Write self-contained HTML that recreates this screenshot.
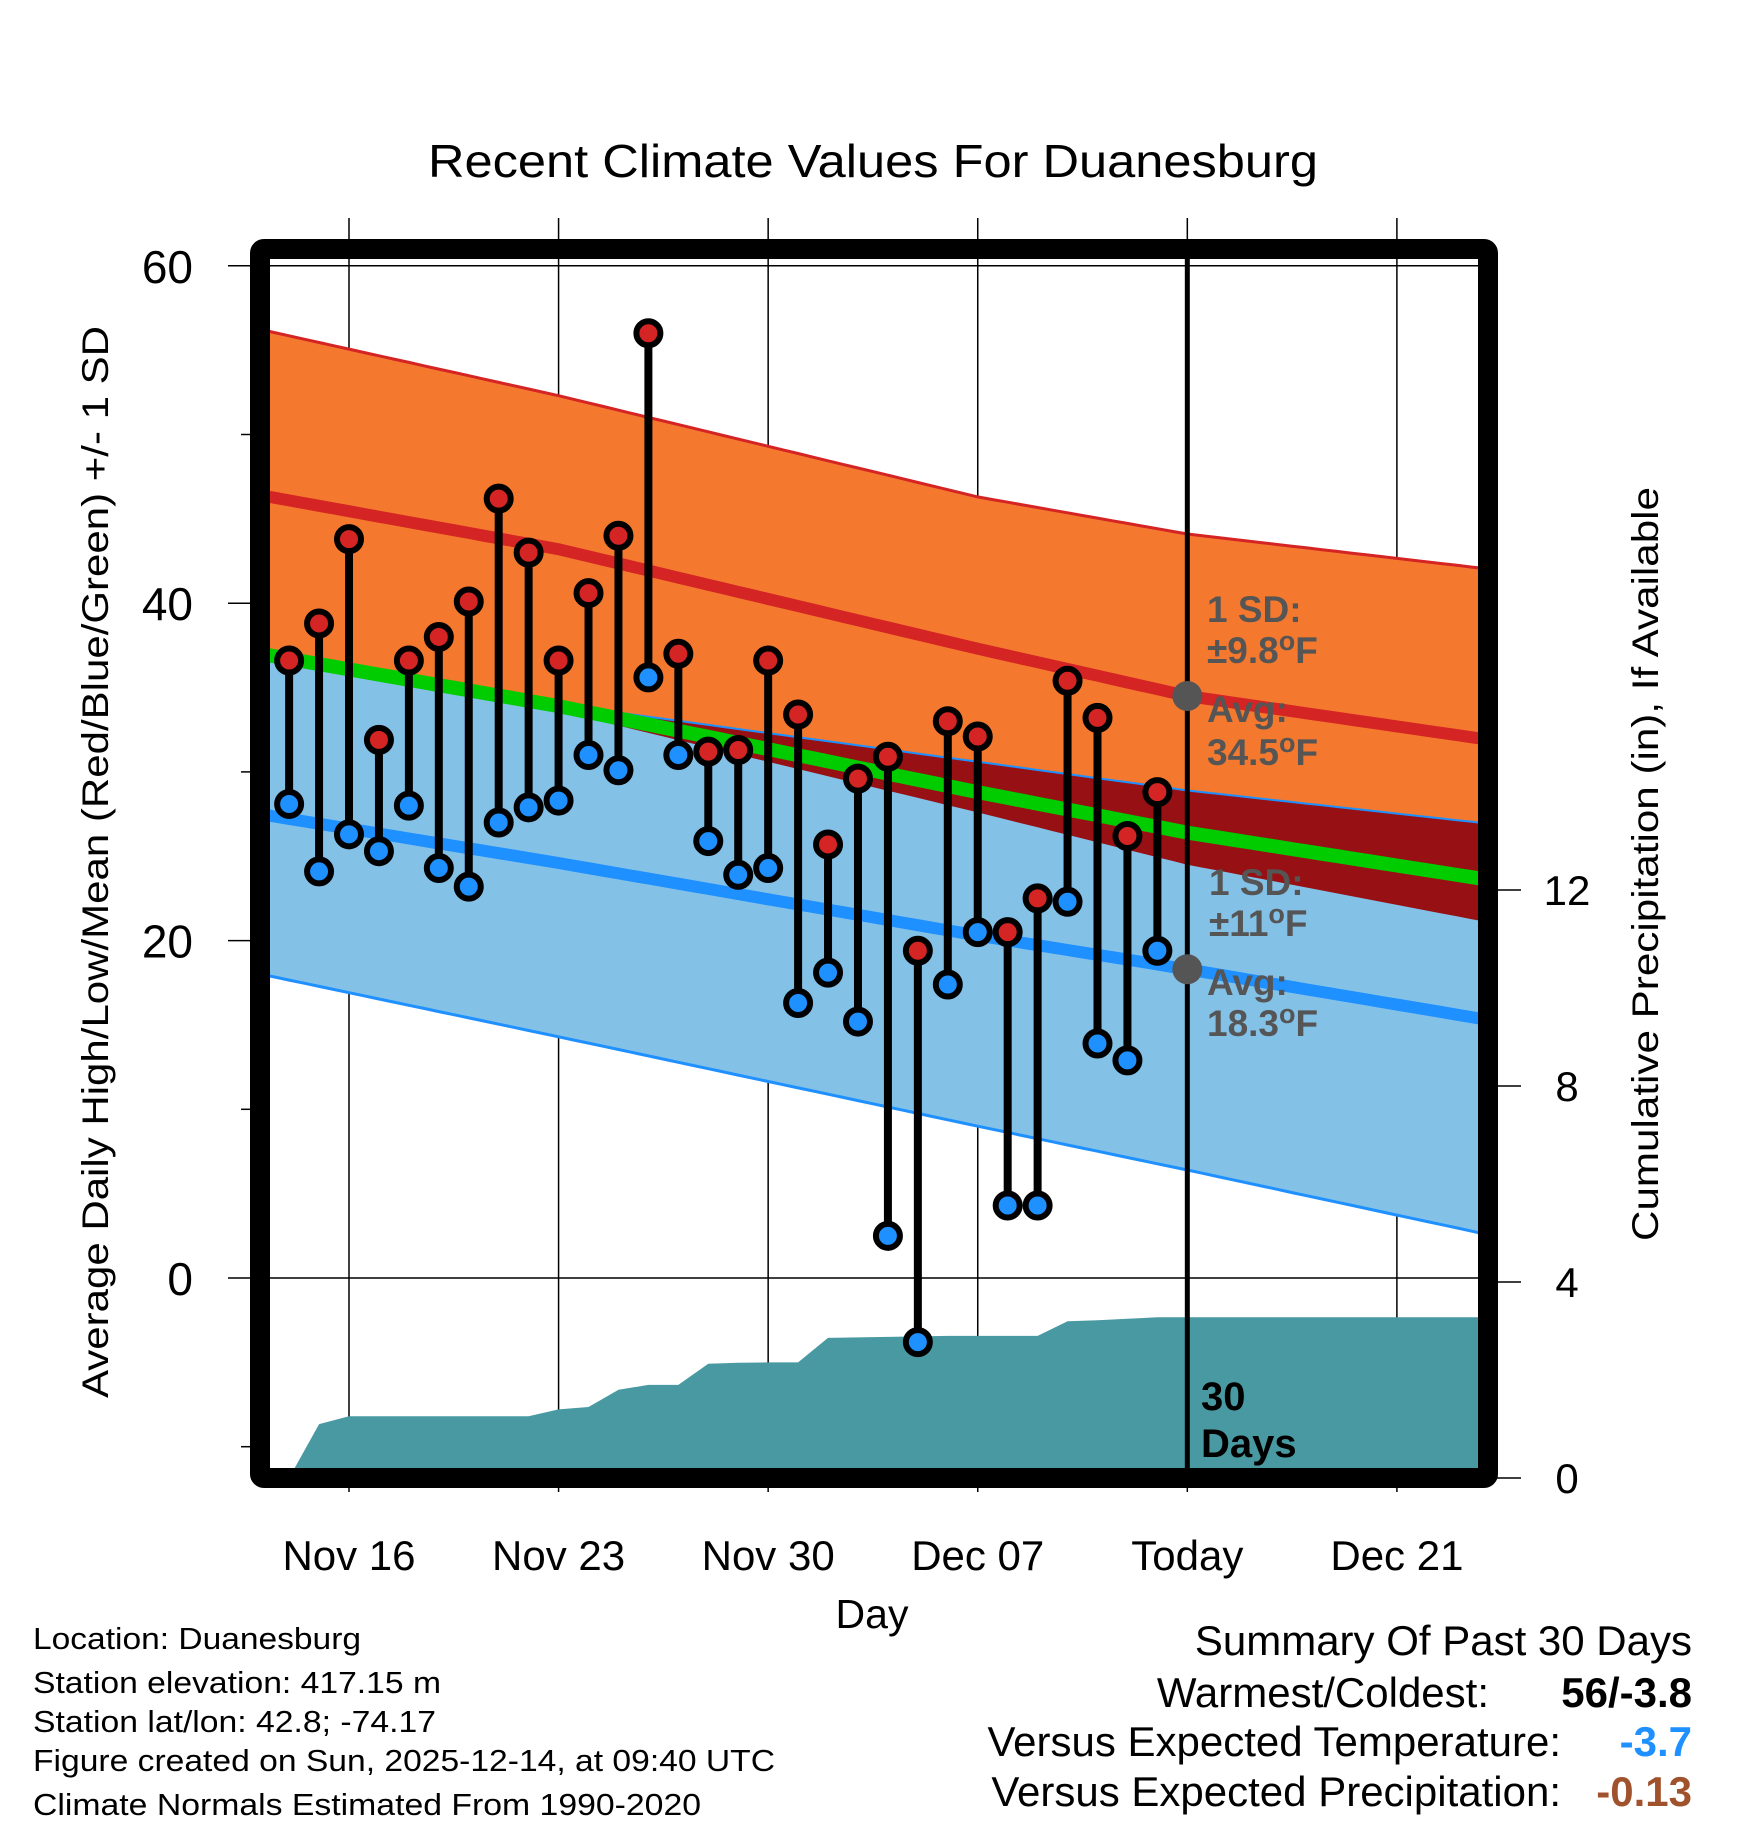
<!DOCTYPE html>
<html><head><meta charset="utf-8"><style>
html,body{margin:0;padding:0;background:#fff;}
svg{display:block;font-family:"Liberation Sans",Arial,sans-serif;}
</style></head><body>
<svg id="chart" width="1748" height="1828" viewBox="0 0 1748 1828" xmlns="http://www.w3.org/2000/svg">
<defs><clipPath id="plotclip"><rect x="270" y="259" width="1208" height="1209"/></clipPath></defs>
<rect width="1748" height="1828" fill="#fff"/>
<text x="873" y="177" font-size="46" text-anchor="middle" textLength="890" lengthAdjust="spacingAndGlyphs">Recent Climate Values For Duanesburg</text>
<g id="grid"></g>
<g id="plot" clip-path="url(#plotclip)"></g>
<g id="over"></g>
<g id="axes"></g>
<text transform="translate(108,862) rotate(-90)" font-size="37" text-anchor="middle" textLength="1072" lengthAdjust="spacingAndGlyphs">Average Daily High/Low/Mean (Red/Blue/Green) +/- 1 SD</text>
<text transform="translate(1658,864) rotate(-90)" font-size="37" text-anchor="middle" textLength="754" lengthAdjust="spacingAndGlyphs">Cumulative Precipitation (in), If Available</text>
<text x="872" y="1628" font-size="41" text-anchor="middle">Day</text>
<g font-size="31">
<text x="33" y="1649" textLength="328" lengthAdjust="spacingAndGlyphs">Location: Duanesburg</text>
<text x="33" y="1693" textLength="408" lengthAdjust="spacingAndGlyphs">Station elevation: 417.15 m</text>
<text x="33" y="1732" textLength="403" lengthAdjust="spacingAndGlyphs">Station lat/lon: 42.8; -74.17</text>
<text x="33" y="1771" textLength="742" lengthAdjust="spacingAndGlyphs">Figure created on Sun, 2025-12-14, at 09:40 UTC</text>
<text x="33" y="1815" textLength="668" lengthAdjust="spacingAndGlyphs">Climate Normals Estimated From 1990-2020</text>
</g>
<g font-size="42" text-anchor="end">
<text x="1692" y="1655">Summary Of Past 30 Days</text>
<text x="1489" y="1707">Warmest/Coldest:</text>
<text x="1692" y="1707" font-weight="bold">56/-3.8</text>
<text x="1561" y="1756">Versus Expected Temperature:</text>
<text x="1692" y="1756" font-weight="bold" fill="#1e90ff">-3.7</text>
<text x="1561" y="1806">Versus Expected Precipitation:</text>
<text x="1692" y="1806" font-weight="bold" fill="#a0522d">-0.13</text>
</g>
<g id="annot" font-size="37" font-weight="bold" fill="#555">
<text x="1207" y="622">1 SD:</text>
<text x="1207" y="663">±9.8<tspan font-size="27" dy="-13">o</tspan><tspan dy="13">F</tspan></text>
<text x="1207" y="722">Avg:</text>
<text x="1207" y="765">34.5<tspan font-size="27" dy="-13">o</tspan><tspan dy="13">F</tspan></text>
<text x="1209" y="895">1 SD:</text>
<text x="1209" y="936">±11<tspan font-size="27" dy="-13">o</tspan><tspan dy="13">F</tspan></text>
<text x="1207" y="995">Avg:</text>
<text x="1207" y="1036">18.3<tspan font-size="27" dy="-13">o</tspan><tspan dy="13">F</tspan></text>
</g>
<g font-size="40" font-weight="bold" fill="#000">
<text x="1201" y="1410">30</text>
<text x="1201" y="1457">Days</text>
</g>
</svg>
<script>
// ---- data ----
const normDays = [-2.64, 7, 21, 28, 37.7];
const highUpper = [56.1, 52.3, 46.3, 44.1, 42.1];
const highMean = [46.3, 43.2, 37.3, 34.5, 32.0];
const highLower = [36.7, 33.6, 27.6, 24.5, 21.2];
const lowUpper = [37.2, 34.0, 30.6, 28.9, 27.0];
const lowMean = [27.4, 24.6, 20.3, 18.3, 15.4];
const lowLower = [17.9, 14.3, 9.0, 6.4, 2.7];
const avgMean = [36.9, 33.9, 28.8, 26.4, 23.7];
const highs = [36.6,38.8,43.8,31.9,36.6,38.0,40.1,46.2,43.0,36.6,40.6,44.0,56.0,37.0,31.2,31.3,36.6,33.4,25.7,29.6,30.9,19.4,33.0,32.1,20.5,22.5,35.4,33.2,26.2,28.8];
const lows = [28.1,24.1,26.3,25.3,28.0,24.3,23.2,27.0,27.9,28.3,31.0,30.1,35.6,31.0,25.9,23.9,24.3,16.3,18.1,15.2,2.5,-3.8,17.4,20.5,4.3,4.3,22.3,13.9,12.9,19.4];
const precip = [0,1.1,1.26,1.26,1.26,1.26,1.26,1.26,1.26,1.4,1.45,1.8,1.9,1.9,2.33,2.35,2.36,2.36,2.86,2.87,2.88,2.89,2.9,2.9,2.9,2.9,3.2,3.22,3.25,3.28];
const xTickDays = [0,7,14,21,28,35];
const xTickLabels = ["Nov 16","Nov 23","Nov 30","Dec 07","Today","Dec 21"];
const yTicks = [0,20,40,60];
const yMinor = [-10,10,30,50];
const y2Ticks = [0,4,8,12];
const todayDay = 28;
const firstDay = -2;
// ---- scales ----
const NS="http://www.w3.org/2000/svg";
const X = d => 349 + d*29.94;
const Y = v => 1278 - v*16.87;
const Y2 = p => 1478 - p*49;
const R = 1478, B = 1468;
function mk(tag, attrs, parent){const el=document.createElementNS(NS,tag);for(const k in attrs)el.setAttribute(k,attrs[k]);parent.appendChild(el);return el;}
const grid=document.getElementById('grid'), plot=document.getElementById('plot'), over=document.getElementById('over'), axes=document.getElementById('axes');
function interp(arr, d){for(let i=0;i<normDays.length-1;i++){if(d<=normDays[i+1]||i==normDays.length-2){const t=(d-normDays[i])/(normDays[i+1]-normDays[i]);return arr[i]+t*(arr[i+1]-arr[i]);}}}
const samples=[];for(let d=-3;d<=38;d+=0.5)samples.push(d);
function linePts(arr){return samples.map(d=>X(d).toFixed(1)+','+Y(interp(arr,d)).toFixed(1));}
function bandPts(a,b){return linePts(a).concat(linePts(b).reverse()).join(' ');}
let e;
e=mk('polygon',{points:bandPts(highUpper,highLower),fill:'#f4792e'},plot);


e=mk('polygon',{points:bandPts(lowUpper,lowLower),fill:'#84c1e7'},plot);


const ovTop=[],ovBot=[];
samples.forEach(d=>{const a=interp(lowUpper,d),b=interp(highLower,d);ovTop.push(X(d).toFixed(1)+','+Y(Math.max(a,b)).toFixed(1));ovBot.push(X(d).toFixed(1)+','+Y(b).toFixed(1));});
e=mk('polygon',{points:ovTop.concat(ovBot.reverse()).join(' '),fill:'#961014'},plot);


e=mk('polyline',{points:linePts(highUpper).join(' '),fill:'none',stroke:'#d42424','stroke-width':3},plot);


e=mk('polyline',{points:linePts(lowUpper).join(' '),fill:'none',stroke:'#1e90ff','stroke-width':2},plot);


e=mk('polyline',{points:linePts(lowLower).join(' '),fill:'none',stroke:'#1e90ff','stroke-width':3},plot);


e=mk('polyline',{points:linePts(highMean).join(' '),fill:'none',stroke:'#d42424','stroke-width':12},plot);


e=mk('polyline',{points:linePts(lowMean).join(' '),fill:'none',stroke:'#1e90ff','stroke-width':12},plot);


e=mk('polyline',{points:linePts(avgMean).join(' '),fill:'none',stroke:'#00cc00','stroke-width':14},plot);


const pp=[X(firstDay)+','+Y2(0)];
precip.forEach((p,i)=>pp.push(X(firstDay+i).toFixed(1)+','+Y2(p).toFixed(1)));
pp.push(X(40)+','+Y2(precip[precip.length-1]).toFixed(1));
pp.push(X(40)+','+(B+20));pp.push(X(firstDay)+','+(B+20));
e=mk('polygon',{points:pp.join(' '),fill:'#4899a2'},plot);


xTickDays.forEach((d,i)=>{
  e=mk('line',{x1:X(d),x2:X(d),y1:218,y2:1492,stroke:'#000','stroke-width':1.5},grid);
  
  
  e=mk('text',{x:X(d),y:1570,'font-size':42,'text-anchor':'middle'},axes);
  e.textContent=xTickLabels[i];
  
  
});
yTicks.forEach(v=>{
  e=mk('line',{x1:228,x2:R,y1:Y(v),y2:Y(v),stroke:'#000','stroke-width':1.5},grid);
  
  
  e=mk('text',{x:193,y:Y(v)+17,'font-size':46,'text-anchor':'end'},axes);
  e.textContent=v;
  
  
});
yMinor.forEach(v=>{
  e=mk('line',{x1:241,x2:252,y1:Y(v),y2:Y(v),stroke:'#000','stroke-width':1.5},axes);
  
  
});
y2Ticks.forEach(p=>{
  e=mk('line',{x1:1496,x2:1521,y1:Y2(p),y2:Y2(p),stroke:'#000','stroke-width':1.5},axes);
  
  
  e=mk('text',{x:1567,y:Y2(p)+15,'font-size':42,'text-anchor':'middle'},axes);
  e.textContent=p;
  
  
});
highs.forEach((h,i)=>{
  const x=X(firstDay+i);
  e=mk('line',{x1:x,x2:x,y1:Y(h),y2:Y(lows[i]),stroke:'#000','stroke-width':8},over);
  
  
});
highs.forEach((h,i)=>{
  const x=X(firstDay+i);
  e=mk('circle',{cx:x,cy:Y(h),r:12,fill:'#d42424',stroke:'#000','stroke-width':6},over);
  
  
  e=mk('circle',{cx:x,cy:Y(lows[i]),r:12,fill:'#1e90ff',stroke:'#000','stroke-width':6},over);
  
  
});
e=mk('line',{x1:X(todayDay),x2:X(todayDay),y1:249,y2:1478,stroke:'#000','stroke-width':5},over);


e=mk('circle',{cx:X(todayDay),cy:Y(interp(highMean,todayDay)),r:15,fill:'#555'},over);


e=mk('circle',{cx:X(todayDay),cy:Y(interp(lowMean,todayDay)),r:15,fill:'#555'},over);


e=mk('rect',{x:260,y:249,width:1228,height:1229,fill:'none',stroke:'#000','stroke-width':20,rx:4,'stroke-linejoin':'round'},over);


</script>
</body></html>
